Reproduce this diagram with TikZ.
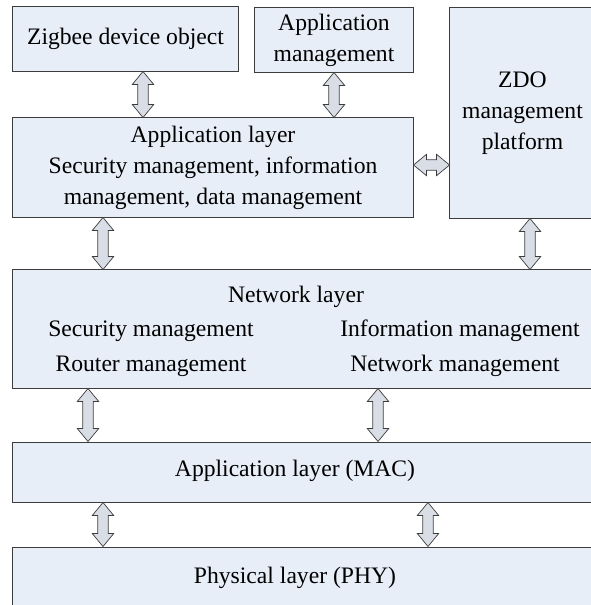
\documentclass[tikz,border=0pt]{standalone}
\usepackage{fontspec}
\setmainfont{Liberation Serif}
\usetikzlibrary{calc}
\definecolor{boxfill}{HTML}{E8EEF7}
\definecolor{arrowfill}{HTML}{D9DEE6}
\definecolor{edgegray}{HTML}{3C3C3C}

% hollow two-headed arrow between two points
\newcommand{\fatarrow}[2]{%
  \coordinate (fa1) at ($(#1)!9.2pt!(#2)$);
  \coordinate (fa2) at ($(#2)!9.2pt!(#1)$);
  \draw[arrowbody] (#1) -- ($(fa1)!7.6pt!90:(#2)$) -- ($(fa1)!3.7pt!90:(#2)$)
    -- ($(fa2)!3.7pt!-90:(#1)$) -- ($(fa2)!7.6pt!-90:(#1)$) -- (#2)
    -- ($(fa2)!7.6pt!90:(#1)$) -- ($(fa2)!3.7pt!90:(#1)$)
    -- ($(fa1)!3.7pt!-90:(#2)$) -- ($(fa1)!7.6pt!-90:(#2)$) -- cycle;}

\begin{document}
\begin{tikzpicture}[
    x=0.025cm, y=-0.025cm,
    box/.style={rectangle, draw=edgegray, fill=boxfill, line width=0.7pt, inner sep=0pt, align=center,
      font=\fontsize{16.8}{22}\selectfont},
    txt/.style={inner sep=0pt, font=\fontsize{16.8}{22}\selectfont},
    arrowbody/.style={draw=edgegray, fill=arrowfill, line width=0.5pt, line join=miter}
]
\clip (0,0) rectangle (591,605);
% top row
\node[box, minimum width=5.625cm, minimum height=1.6cm] (zdo) at (125.5,39) {Zigbee device object};
\node[box, minimum width=3.95cm, minimum height=1.6cm] (appmgmt) at (334,40) {Application\\management};
\node[box, minimum width=3.625cm, minimum height=5.25cm] (platform) at (522.5,113) {ZDO\\management\\platform};
\node[box, minimum width=10cm, minimum height=2.475cm] (applayer) at (213,167.5)
  {Application layer\\Security management, information\\management, data management};

% network layer
\node[box, minimum width=14.55cm, minimum height=2.95cm] (network) at (304,329) {};
\node[txt] (nettitle) at (296,297) {Network layer};
\node[txt] (netsec) at (151,331) {Security management};
\node[txt] (netinfo) at (460,331) {Information management};
\node[txt] (netrouter) at (151,366) {Router management};
\node[txt] (netmgmt) at (455,366) {Network management};

% lower layers
\node[box, minimum width=14.55cm, minimum height=1.5cm] (mac) at (304,472) {};
\node[txt] (mactext) at (295,471) {Application layer (MAC)};
\node[box, minimum width=14.55cm, minimum height=2.325cm] (phy) at (304,593.5) {};
\node[txt] (phytext) at (295,578) {Physical layer (PHY)};

% arrows
\fatarrow{zdo.south -| 143,0}{applayer.north -| 143,0}
\fatarrow{appmgmt.south}{applayer.north -| appmgmt.south}
\fatarrow{applayer.east |- 0,165}{platform.west |- 0,165}
\fatarrow{applayer.south -| 103,0}{network.north -| 103,0}
\fatarrow{platform.south -| 530,0}{network.north -| 530,0}
\fatarrow{network.south -| 88,0}{mac.north -| 88,0}
\fatarrow{network.south -| 378,0}{mac.north -| 378,0}
\fatarrow{mac.south -| 103,0}{phy.north -| 103,0}
\fatarrow{mac.south -| 428,0}{phy.north -| 428,0}
\end{tikzpicture}
\end{document}
